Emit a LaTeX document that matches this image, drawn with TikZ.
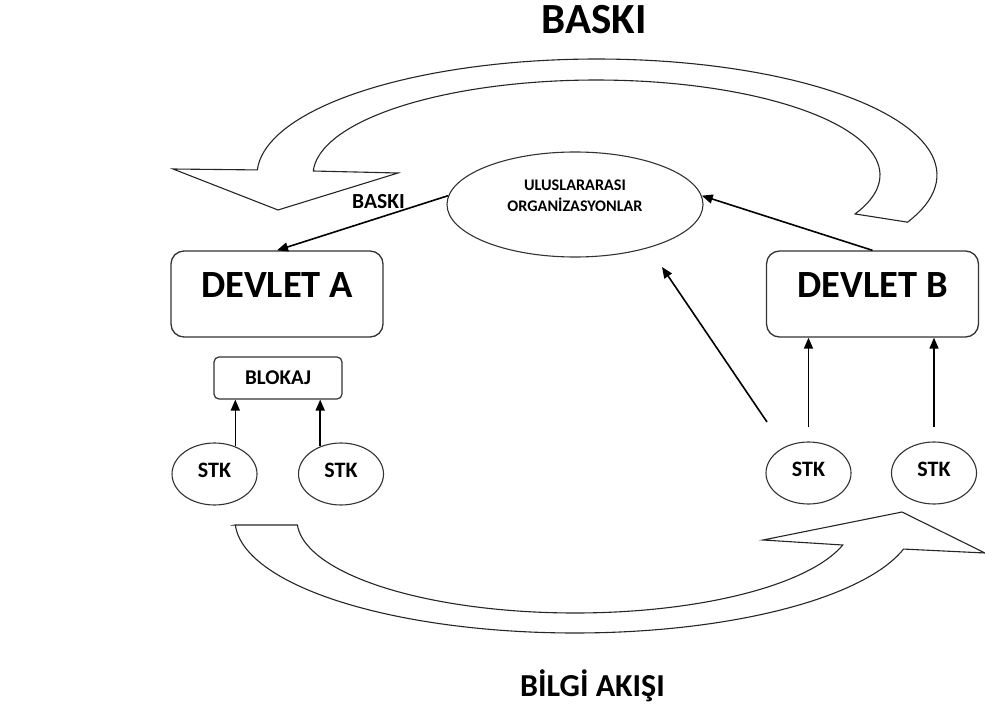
\documentclass[tikz,border=0pt]{standalone}
\usepackage{fontspec}
\setmainfont{Carlito}
\usetikzlibrary{arrows.meta,shapes.geometric,calc}
\begin{document}
\begin{tikzpicture}[x=1pt,y=-1pt,
  every node/.style={font=\bfseries},
  bigbox/.style={draw=black!80, line width=1.3pt, rounded corners=13pt, minimum width=212pt, minimum height=86pt, inner sep=0pt, font=\bfseries\fontsize{38.5}{42}\selectfont, text height=24.8pt, text depth=18.8pt},
  smallbox/.style={draw=black!80, line width=1.2pt, rounded corners=5pt, minimum width=128pt, minimum height=42pt, inner sep=0pt, font=\bfseries\fontsize{21}{24}\selectfont},
  stk/.style={draw=black!80, line width=1.1pt, ellipse, minimum width=85pt, minimum height=62pt, inner sep=0pt, font=\bfseries\fontsize{22}{24}\selectfont, text height=14.2pt, text depth=8pt},
  arr/.style={line width=1.6pt, -{Triangle[length=11pt,width=9pt]}},
  flow/.style={draw=black!85, line width=1.1pt, fill=white, line join=miter}
]
\useasboundingbox (0,0) rectangle (985,706);

% big curved arrows
\draw[flow] (173,169) -- (278,210) -- (398,173) -- (313,171)
  -- plot[domain=182.4:384.2, samples=90] ({596.5+283.5*cos(\x)}, {175+95*sin(\x)})
  -- plot[domain=384:182.5, samples=90] ({597+340*cos(\x)}, {175+116*sin(\x)})
  -- cycle;
\draw[flow] (235,525)
  -- plot[domain=177.5:14.9, samples=90] ({575+340*cos(\x)}, {520+113*sin(\x)})
  -- (985,553) -- (902,512) -- (763,540)
  -- plot[domain=15.6:176.9, samples=90] ({575+278*cos(\x)}, {520+93*sin(\x)})
  -- cycle;

% nodes
\node[draw=black!80, line width=1.1pt, ellipse, minimum width=256pt, minimum height=105pt, inner sep=0pt,
  label={[name=uot, yshift=9pt, align=center, font=\bfseries\fontsize{16.2}{21}\selectfont]center:ULUSLARARASI\\ORGANİZASYONLAR}] (uo) at (575,204.5) {};
\node[bigbox] (dva) at (277,294) {DEVLET A};
\node[bigbox] (dvb) at (872.5,294) {DEVLET B};
\node[smallbox] (blk) at (278,378) {BLOKAJ};
\node[stk] (s1) at (214.5,474) {STK};
\node[stk] (s2) at (341,474) {STK};
\node[stk] (s3) at (808.5,473) {STK};
\node[stk] (s4) at (934,473) {STK};

\node[font=\bfseries\fontsize{43}{46}\selectfont] (t1) at (594,20) {BASKI};
\node[font=\bfseries\fontsize{32}{36}\selectfont, text height=20.6pt, text depth=0pt] (t2) at (592.5,686) {BİLGİ AKIŞI};
\node[font=\bfseries\fontsize{21.5}{24}\selectfont] (t3) at (378.5,201.5) {BASKI};

% connectors
\draw[arr] (s1.53) -- (s1.53 |- blk.south);
\draw[arr] (s2.127) -- (s2.127 |- blk.south);
\draw[arr] ([yshift=14pt]s3.north) -- (s3.north |- dvb.south);
\draw[arr] ([yshift=14pt]s4.north) -- (s4.north |- dvb.south);
\coordinate (dfrom) at (767,422);
\coordinate (dto) at (662,267);
\draw[arr] (dfrom) -- (dto);
\draw[arr] (dvb.north) -- (uo.4);
\draw[arr] (uo.176) -- (dva.north);
\end{tikzpicture}
\end{document}
